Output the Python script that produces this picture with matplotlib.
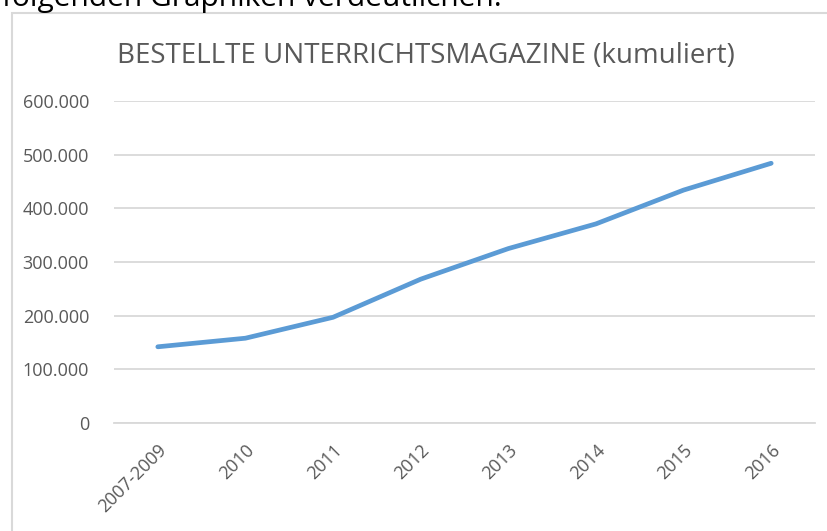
import numpy as np
import matplotlib.pyplot as plt
from matplotlib.ticker import FuncFormatter
from matplotlib.patches import Rectangle

jahre = ["2007-2009", "2010", "2011", "2012", "2013", "2014", "2015", "2016"]
bestellt = [142000, 158000, 197000, 268000, 325000, 371000, 434000, 484000]
y_ticks = [0, 100000, 200000, 300000, 400000, 500000, 600000]

plt.rcParams['font.family'] = ['Open Sans', 'DejaVu Sans']

W, H = 827, 531
fig = plt.figure(figsize=(W / 100, H / 100), dpi=100)

# cut-off text line above the chart (only its lower part is visible)
fig.text(2 / W, 1 - 6 / H, "folgenden Graphiken verdeutlichen.", fontsize=21.5,
         color="black", ha="left", va="baseline")

# chart frame
fig.patches.append(Rectangle((12 / W, -0.1), 1.2, 1 - 13 / H + 0.1, transform=fig.transFigure,
                             fill=False, edgecolor="#D9D9D9", linewidth=1.5))

ax = fig.add_axes([114 / W, (H - 423) / H, (815 - 114) / W, (423 - 101) / H])
x = np.arange(len(jahre))
ax.plot(x, bestellt, color="#5B9BD5", linewidth=3.4, solid_capstyle="round",
        solid_joinstyle="round", zorder=3)

ax.set_xlim(-0.5, len(jahre) - 0.5)
ax.set_ylim(0, 600000)
ax.set_yticks(y_ticks)
ax.yaxis.set_major_formatter(FuncFormatter(lambda v, p: f"{int(v):,}".replace(",", ".")))
ax.grid(axis="y", color="#D9D9D9", linewidth=1.3)
ax.set_axisbelow(True)
for s in ["top", "right", "left"]:
    ax.spines[s].set_visible(False)
ax.spines["bottom"].set_color("#D9D9D9")
ax.spines["bottom"].set_linewidth(1.3)

ax.set_xticks(x)
ax.set_xticklabels(jahre, rotation=45, ha="right", rotation_mode="anchor")
ax.tick_params(axis="both", length=0, labelsize=13, labelcolor="#595959")
ax.tick_params(axis="y", pad=18)
ax.tick_params(axis="x", pad=13)

fig.text(426 / W, 1 - 56 / H, "BESTELLTE UNTERRICHTSMAGAZINE (kumuliert)", fontsize=20,
         color="#595959", ha="center", va="center")

fig.savefig("out.png", dpi=100)
